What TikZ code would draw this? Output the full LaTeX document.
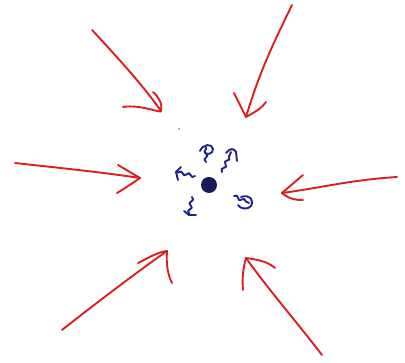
\documentclass[tikz,border=0pt]{standalone}
\usetikzlibrary{decorations.pathmorphing,arrows.meta}
\definecolor{penred}{RGB}{220,30,30}
\definecolor{penblue}{RGB}{30,35,140}
\definecolor{dotblue}{RGB}{25,25,90}
\tikzset{
  redpen/.style={draw=penred,line width=1.9pt,line cap=round,line join=round},
  bluepen/.style={draw=penblue,line width=1.9pt,line cap=round,line join=round},
  wig/.style={bluepen,decorate,decoration={snake,amplitude=1.6pt,segment length=8pt,post length=1pt}}
}
\begin{document}
\begin{tikzpicture}[x=1pt,y=-1pt]
\useasboundingbox (0,0) rectangle (405,363);
% red arrows (shafts)
\coordinate (a1s) at (92,30);  \coordinate (a1t) at (161,111);
\coordinate (a2s) at (292,5);  \coordinate (a2t) at (246,117);
\coordinate (a3s) at (15,163); \coordinate (a3t) at (140,178);
\coordinate (a4s) at (397,177);\coordinate (a4t) at (282,193);
\coordinate (a5s) at (62,330); \coordinate (a5t) at (167,251);
\coordinate (a6s) at (322,355);\coordinate (a6t) at (246,258);
\draw[redpen] (a1s) .. controls (120,60) and (145,88) .. (a1t);
\draw[redpen] (123,107) .. controls (140,104) and (163,114) .. (a1t) .. controls (163,104) and (158,96) .. (153,92);
\draw[redpen] (a2s) .. controls (275,40) and (260,70) .. (a2t);
\draw[redpen] (234,93) -- (a2t) .. controls (255,112) and (262,108) .. (266,102);
\draw[redpen] (a3s) .. controls (60,168) and (100,172) .. (a3t);
\draw[redpen] (118,165) -- (a3t) .. controls (130,185) and (122,190) .. (117,193);
\draw[redpen] (a4s) .. controls (350,180) and (320,188) .. (a4t);
\draw[redpen] (303,175) -- (a4t) .. controls (290,200) and (298,200) .. (303,200);
\draw[redpen] (a5s) .. controls (100,300) and (140,270) .. (a5t);
\draw[redpen] (138,263) .. controls (148,258) and (158,252) .. (a5t) .. controls (166,265) and (168,275) .. (172,283);
\draw[redpen] (a6s) .. controls (295,320) and (265,285) .. (a6t);
\draw[redpen] (243,290) .. controls (242,280) and (243,268) .. (a6t) .. controls (260,260) and (268,262) .. (275,268);
% central particle
\node[circle,fill=dotblue,minimum size=16pt,inner sep=0pt] (dot) at (209,185) {};
% small wiggly arrows
\coordinate (u0) at (206,162); \coordinate (u1) at (206,147);
\coordinate (r0) at (222,172); \coordinate (r1) at (231,152);
\coordinate (l0) at (195,176); \coordinate (l1) at (176,172);
\coordinate (d0) at (234,196); \coordinate (d1) at (249,203);
\coordinate (s0) at (192,197); \coordinate (s1) at (189,215);
\draw[wig] (u0) -- (u1);
\draw[bluepen] (200,151) .. controls (203,144) and (212,143) .. (213,149) .. controls (213,154) and (207,155) .. (205,153);
\draw[wig] (r0) -- (r1);
\draw[bluepen] (226,153) .. controls (230,148) and (234,148) .. (236,152) -- (237,161);
\draw[wig] (l0) -- (l1);
\draw[bluepen] (181,167) -- (l1) -- (178,180);
\draw[wig] (d0) -- (d1);
\draw[bluepen] (241,197) .. controls (250,194) and (254,200) .. (251,206) .. controls (248,210) and (240,209) .. (238,205);
\draw[wig] (s0) -- (s1);
\draw[bluepen] (184,211) -- (s1) -- (196,215);
\fill[black!60] (179,129) circle (0.8pt);
\end{tikzpicture}
\end{document}
